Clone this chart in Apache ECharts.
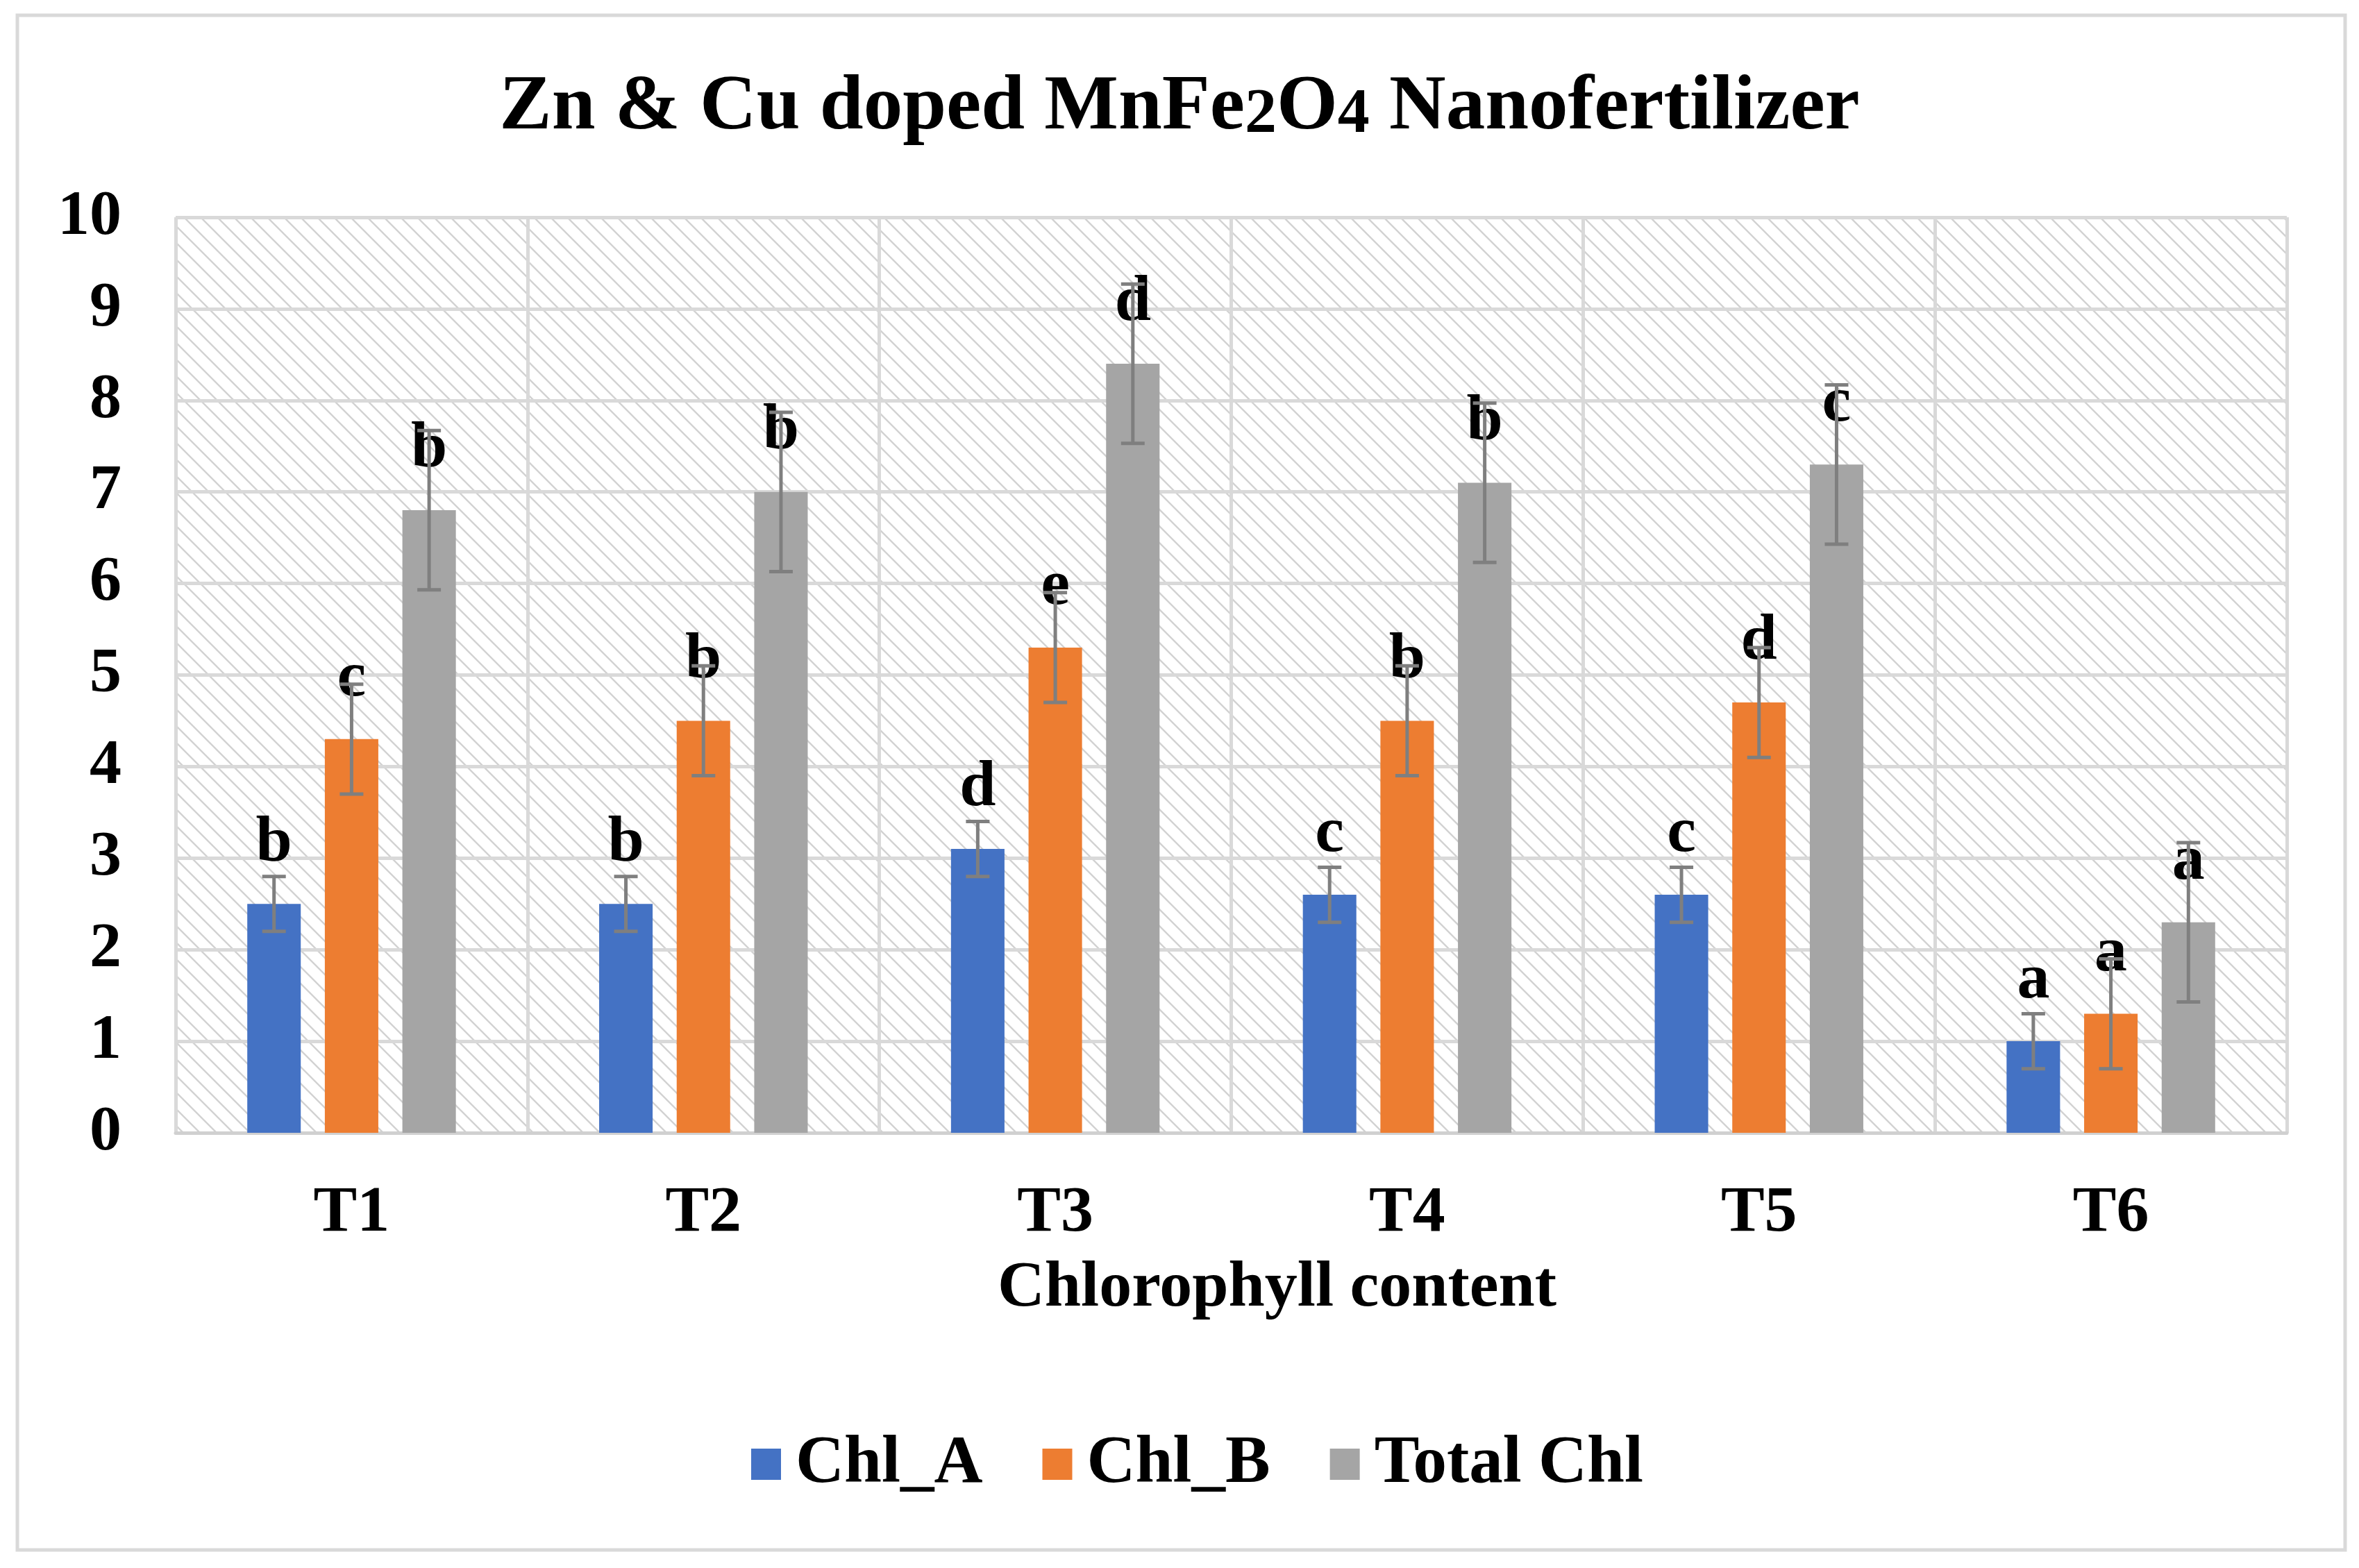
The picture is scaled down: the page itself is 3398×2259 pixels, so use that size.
<!DOCTYPE html>
<html>
<head>
<meta charset="utf-8">
<script src="https://cdn.jsdelivr.net/npm/echarts@6/dist/echarts.min.js"></script>
<style>
html,body{margin:0;padding:0;background:#fff;}
#c{width:3398px;height:2259px;}
</style>
</head>
<body>
<div id="c"></div>
<script>
const categories = ['T1','T2','T3','T4','T5','T6'];
const seriesNames = ['Chl_A','Chl_B','Total Chl'];
const chlA = [2.5, 2.5, 3.1, 2.6, 2.6, 1.0];
const chlB = [4.3, 4.5, 5.3, 4.5, 4.7, 1.3];
const totalChl = [6.8, 7.0, 8.4, 7.1, 7.3, 2.3];
const errA = [0.3, 0.3, 0.3, 0.3, 0.3, 0.3];
const errB = [0.6, 0.6, 0.6, 0.6, 0.6, 0.6];
const errTotal = [0.87, 0.87, 0.87, 0.87, 0.87, 0.87];
const lettersA = ['b','b','d','c','c','a'];
const lettersB = ['c','b','e','b','d','a'];
const lettersTotal = ['b','b','d','b','c','a'];
const yTicks = [0,1,2,3,4,5,6,7,8,9,10];

const FONT = '"Liberation Serif", "Times New Roman", serif';
const COLORS = ['#4472C4','#ED7D31','#A5A5A5'];
const BAR_W = 0.152;   // fraction of category band
const BAR_GAP = 0.45;  // fraction of bar width

function makeHatch(){
  const s = 24;
  const c = document.createElement('canvas');
  c.width = s; c.height = s;
  const g = c.getContext('2d');
  g.fillStyle = '#ffffff';
  g.fillRect(0,0,s,s);
  g.strokeStyle = '#d2d2d2';
  g.lineWidth = 2.4;
  g.beginPath();
  for (let k=-1;k<=1;k++){
    g.moveTo(k*s-2,-2);
    g.lineTo(k*s+s+2,s+2);
  }
  g.stroke();
  return c;
}

const values = [chlA, chlB, totalChl];
const errs = [errA, errB, errTotal];
const letters = [lettersA, lettersB, lettersTotal];

const barSeries = values.map((vals, si) => ({
  name: seriesNames[si],
  type: 'bar',
  data: vals,
  barWidth: (BAR_W*100)+'%',
  barGap: (BAR_GAP*100)+'%',
  itemStyle: {color: COLORS[si]},
  z: 2,
  label: {
    show: true,
    position: 'top',
    distance: 40,
    formatter: p => letters[si][p.dataIndex],
    fontFamily: FONT,
    fontWeight: 'bold',
    fontSize: 94,
    color: '#000'
  }
}));

const errData = [];
values.forEach((vals, si) => {
  vals.forEach((v, ci) => {
    errData.push([ci, v - errs[si][ci], v + errs[si][ci], si]);
  });
});

const errSeries = {
  type: 'custom',
  name: 'err',
  data: errData,
  encode: {x: 0, y: [1,2]},
  z: 3,
  silent: true,
  renderItem: function(params, api){
    const ci = api.value(0), lo = api.value(1), hi = api.value(2), si = api.value(3);
    const band = api.size([1,0])[0];
    const bw = band*BAR_W, gap = bw*BAR_GAP;
    const x = api.coord([ci, 0])[0] + (si-1)*(bw+gap);
    const yLo = api.coord([ci, lo])[1];
    const yHi = api.coord([ci, hi])[1];
    const cap = 17;
    const st = {stroke:'#7f7f7f', lineWidth:5, fill:null};
    return {type:'group', children:[
      {type:'line', shape:{x1:x,y1:yLo,x2:x,y2:yHi}, style:st},
      {type:'line', shape:{x1:x-cap,y1:yLo,x2:x+cap,y2:yLo}, style:st},
      {type:'line', shape:{x1:x-cap,y1:yHi,x2:x+cap,y2:yHi}, style:st}
    ]};
  }
};

const chart = echarts.init(document.getElementById('c'));
chart.setOption({
  backgroundColor: '#ffffff',
  animation: false,
  title: {
    text: '{m|Zn & Cu doped MnFe}{s|2}{m|O}{s|4}{m| Nanofertilizer}',
    left: 'center',
    top: 94,
    textStyle: {
      rich: {
        m: {fontFamily: FONT, fontWeight:'bold', fontSize:113, color:'#000', verticalAlign:'bottom'},
        s: {fontFamily: FONT, fontWeight:'bold', fontSize:92, color:'#000', verticalAlign:'bottom'}
      }
    }
  },
  graphic: [{
    type: 'rect',
    shape: {x: 25, y: 22, width: 3353, height: 2211},
    style: {fill: null, stroke: '#d9d9d9', lineWidth: 5},
    silent: true
  }],
  legend: {
    data: seriesNames,
    left: 1077,
    top: 2056,
    icon: 'rect',
    itemWidth: 43,
    itemHeight: 45,
    itemGap: 86,
    textStyle: {fontFamily: FONT, fontWeight:'bold', fontSize:97, color:'#000', padding:[0,0,0,16]}
  },
  grid: {
    left: 253, right: 104, top: 313, bottom: 627,
    show: true,
    borderWidth: 0,
    backgroundColor: {image: makeHatch(), repeat: 'repeat'}
  },
  xAxis: {
    type: 'category',
    data: categories,
    axisLine: {show: true, lineStyle: {color:'#d0d0d0', width:5}},
    axisTick: {show: false},
    splitLine: {show: true, interval: 0, lineStyle: {color:'#d9d9d9', width:5}},
    axisLabel: {fontFamily: FONT, fontWeight:'bold', fontSize:94, color:'#000', margin:70, interval:0},
    name: 'Chlorophyll content',
    nameLocation: 'middle',
    nameGap: 178,
    nameTextStyle: {fontFamily: FONT, fontWeight:'bold', fontSize:94, color:'#000', padding:[0,0,0,132]}
  },
  yAxis: {
    type: 'value',
    min: yTicks[0],
    max: yTicks[yTicks.length-1],
    interval: 1,
    axisLine: {show:false},
    axisTick: {show:false},
    splitLine: {show:true, lineStyle: {color:'#d9d9d9', width:5}},
    axisLabel: {fontFamily: FONT, fontWeight:'bold', fontSize:92, color:'#000', margin:78}
  },
  series: [...barSeries, errSeries]
});
</script>
</body>
</html>
